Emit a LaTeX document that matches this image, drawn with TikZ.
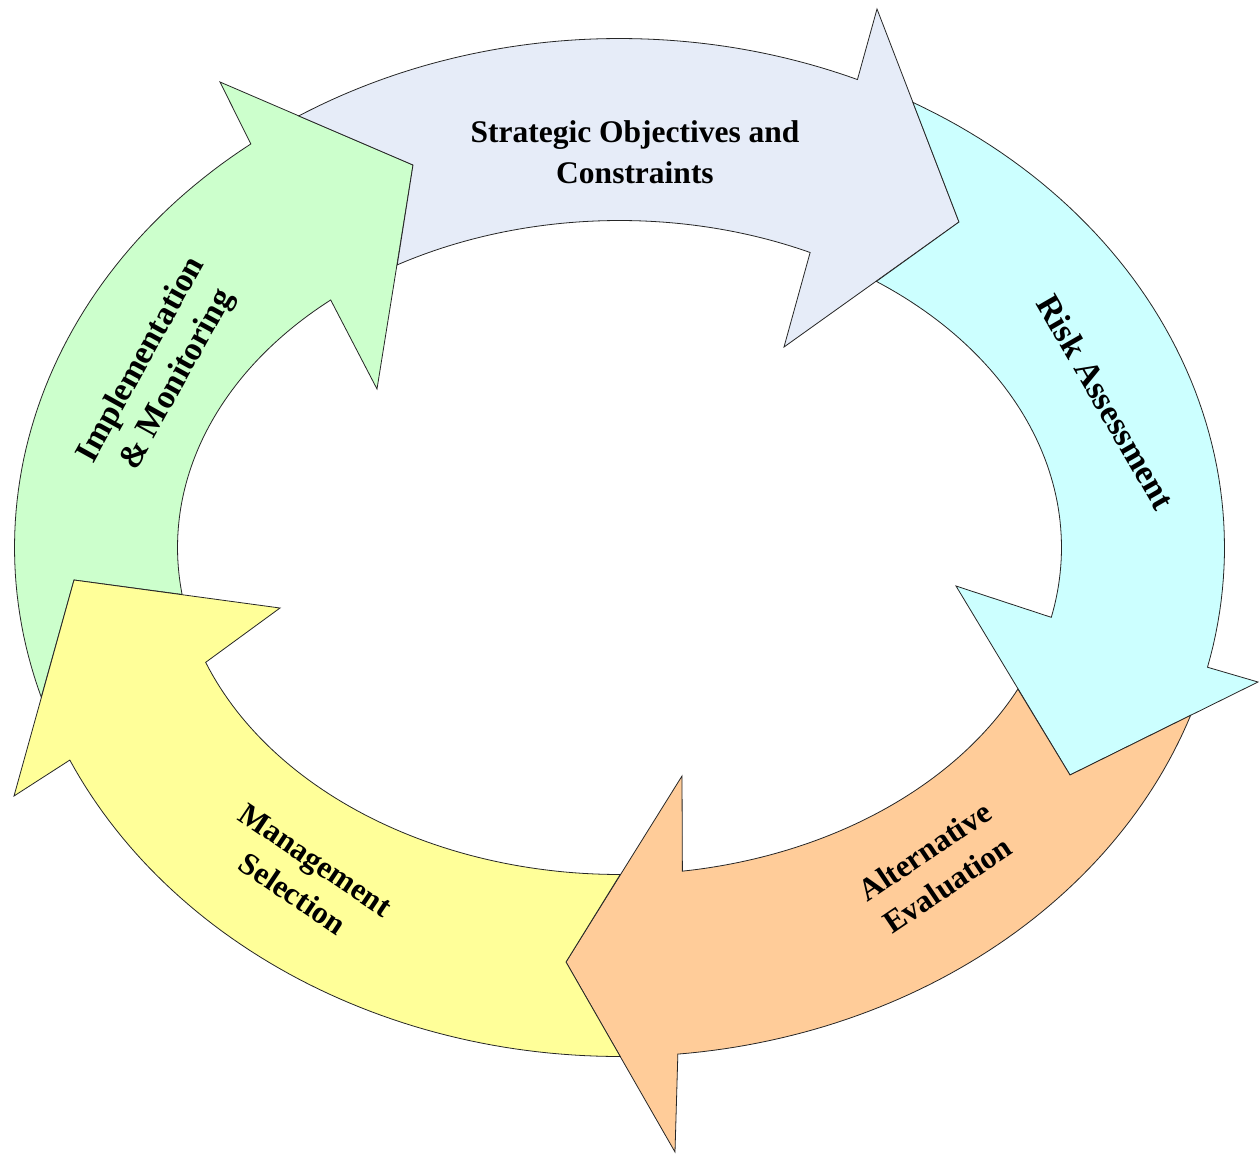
\documentclass[tikz,border=0pt]{standalone}
\usepackage{fontspec}
\setmainfont{Liberation Serif}
\definecolor{greenF}{RGB}{204,255,204}
\definecolor{blueF}{RGB}{230,236,248}
\definecolor{cyanF}{RGB}{204,255,255}
\definecolor{orangeF}{RGB}{255,204,153}
\definecolor{yellowF}{RGB}{255,255,153}
\tikzset{
  arrowshape/.style={draw=black!85, line width=0.8pt, line join=miter},
  lbl/.style={align=center, inner sep=0pt, font=\fontsize{31.5}{40.6}\selectfont\bfseries},
  biglbl/.style={lbl, font=\fontsize{33.5}{41}\selectfont\bfseries}
}
\begin{document}
\begin{tikzpicture}[x=1pt,y=-1pt]
\fill[white] (0,0) rectangle (1259,1154);
\useasboundingbox (0,0) rectangle (1259,1154);
% arrow tips
\coordinate (gT) at (413,165);
\coordinate (bT) at (959,222);
\coordinate (cT) at (1070,775);
\coordinate (oT) at (566,962);
\coordinate (yT) at (74,580);
% green: Implementation & Monitoring
\path[arrowshape, fill=greenF]
  plot[domain=0:1, samples=60, variable=\s] ({619.5+605*cos(162.9+69.6*\s)},{547.5+509*sin(162.9+69.6*\s)})
  -- (220,82) -- (gT) -- (377,389)
  -- plot[domain=0:1, samples=60, variable=\s] ({619.5+442*cos(229.2-57.5*\s)},{547.5+327*sin(229.2-57.5*\s)})
  -- (yT) -- cycle;
% blue: Strategic Objectives
\path[arrowshape, fill=blueF]
  plot[domain=0:1, samples=60, variable=\s] ({619.5+605*cos(237.98+55.22*\s)},{547.5+509*sin(237.98+55.22*\s)})
  -- (877,9) -- (bT) -- (784,347)
  -- plot[domain=0:1, samples=60, variable=\s] ({619.5+442*cos(295.55-55.78*\s)},{547.5+327*sin(295.55-55.78*\s)})
  -- (gT) -- cycle;
% cyan: Risk Assessment
\path[arrowshape, fill=cyanF]
  plot[domain=0:1, samples=60, variable=\s] ({619.5+605*cos(299.01+74.65*\s)},{547.5+509*sin(299.01+74.65*\s)})
  -- (1258,682) -- (cT) -- (956,586)
  -- plot[domain=0:1, samples=60, variable=\s] ({619.5+442*cos(372.33-66.84*\s)},{547.5+327*sin(372.33-66.84*\s)})
  -- (bT) -- cycle;
% orange: Alternative Evaluation
\path[arrowshape, fill=orangeF]
  plot[domain=0:1, samples=60, variable=\s] ({619.5+605*cos(19.25+65.26*\s)},{547.5+509*sin(19.25+65.26*\s)})
  -- (675,1152) -- (oT) -- (682,776)
  -- plot[domain=0:1, samples=60, variable=\s] ({619.5+442*cos(81.82-56.2*\s)},{547.5+327*sin(81.82-56.2*\s)})
  -- (cT) -- cycle;
% yellow: Management Selection
\path[arrowshape, fill=yellowF]
  plot[domain=0:1, samples=60, variable=\s] ({619.5+605*cos(89.93+65.43*\s)},{547.5+509*sin(89.93+65.43*\s)})
  -- (14,796) -- (yT) -- (280,608)
  -- plot[domain=0:1, samples=60, variable=\s] ({619.5+442*cos(159.44-69.58*\s)},{547.5+327*sin(159.44-69.58*\s)})
  -- (oT) -- cycle;
% labels
\node[lbl] (so) at (635,152) {Strategic Objectives and\\Constraints};
\node[biglbl, rotate=61] (im) at (160,370) {Implementation\\\& Monitoring};
\node[biglbl, font=\fontsize{34}{41}\selectfont\bfseries, rotate=-60] (ra) at (1106,402) {Risk Assessment};
\node[lbl, rotate=34] (ae) at (936,868) {Alternative\\Evaluation};
\node[lbl, rotate=-34] (ms) at (304,877) {Management\\Selection};
\end{tikzpicture}
\end{document}
